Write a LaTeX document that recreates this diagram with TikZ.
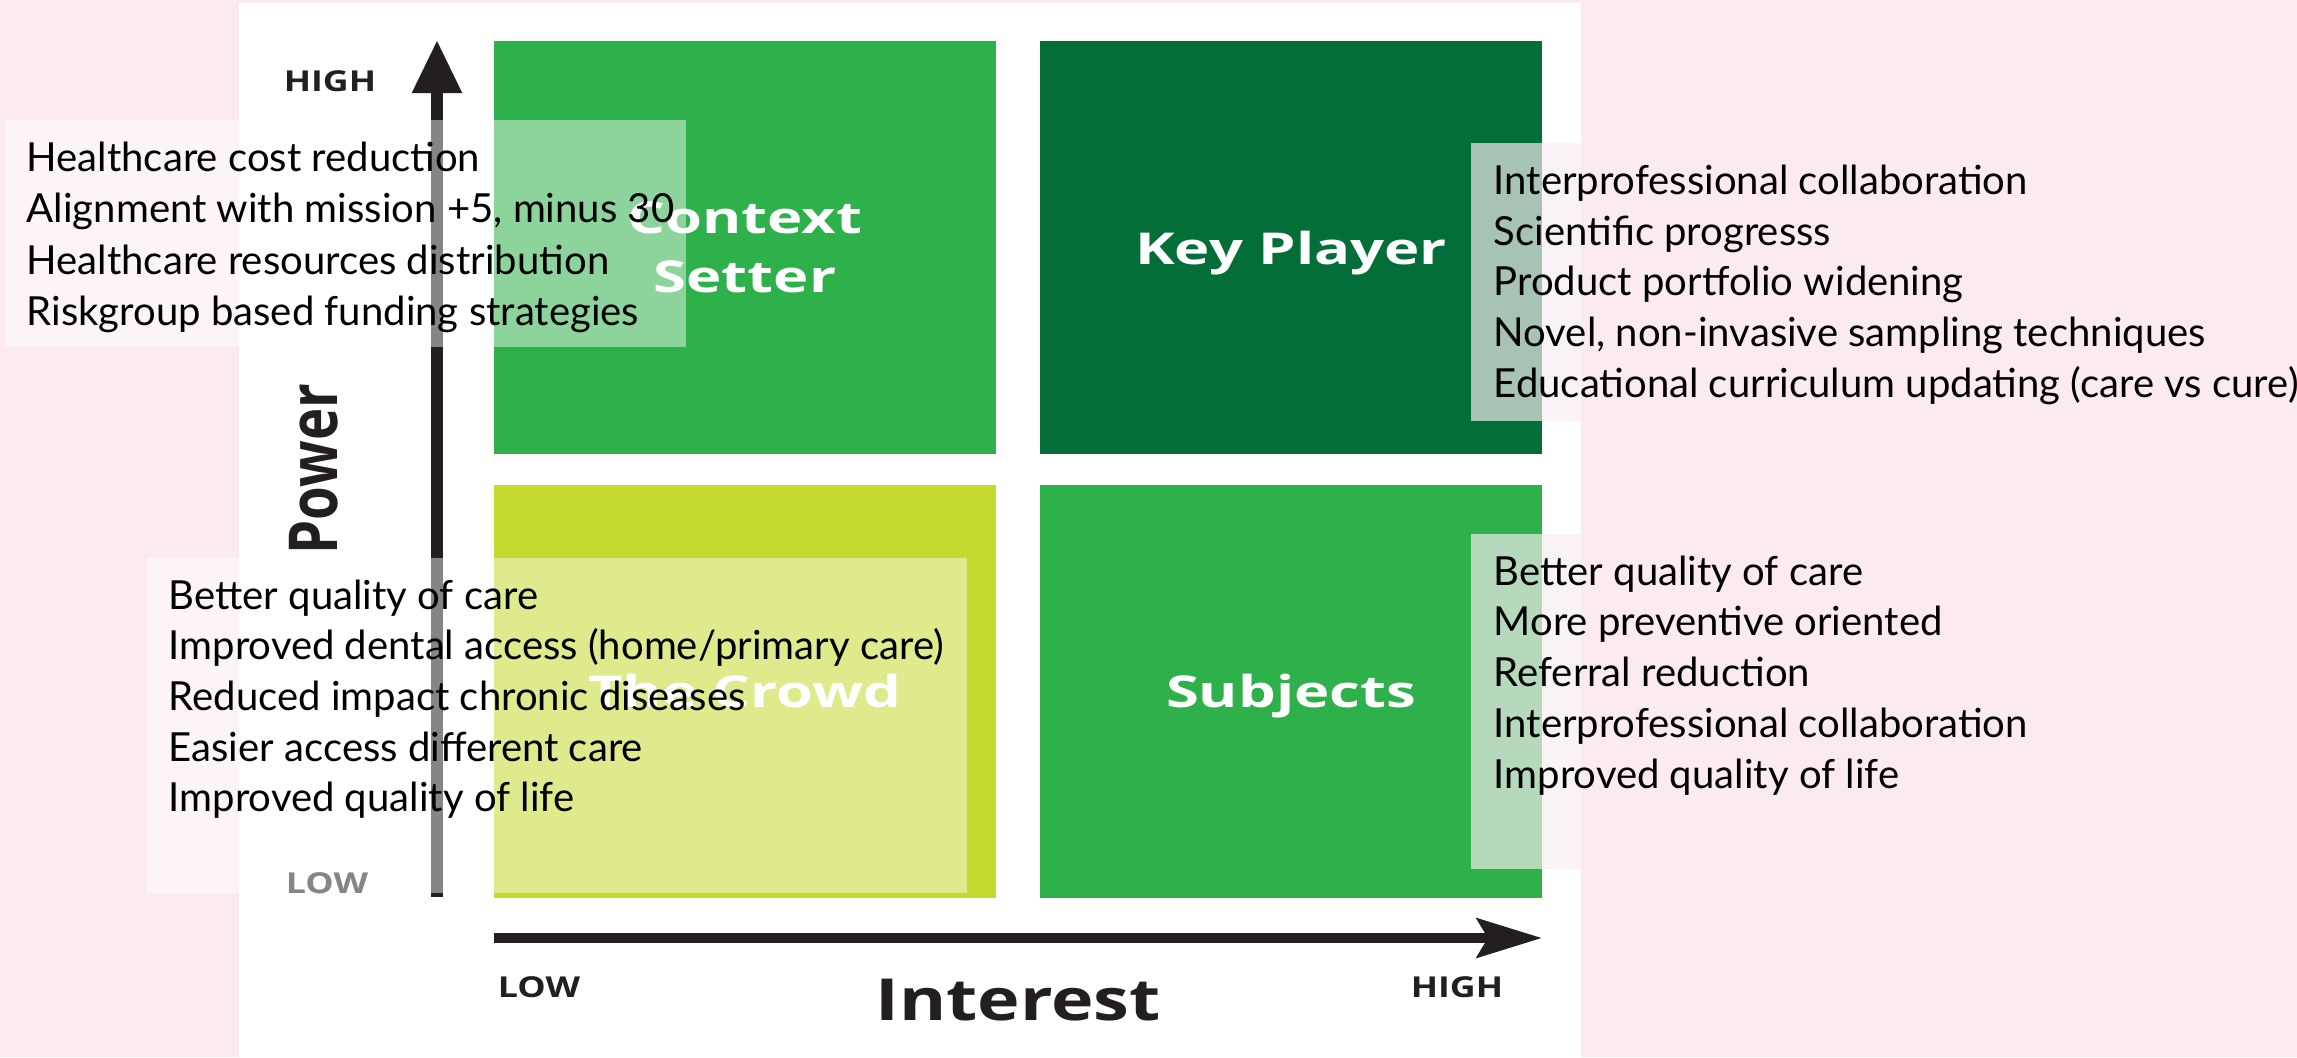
\documentclass[tikz,border=0pt]{standalone}
\usepackage{fontspec}
\setmainfont{Lato}
\newfontfamily\matrixfont{Open Sans}[FakeStretch=1.24]
\newfontfamily\quadfont{Open Sans}[FakeStretch=1.36]
\newfontfamily\powerfont{Open Sans}
\usetikzlibrary{arrows.meta}
\definecolor{slidepink}{RGB}{251,235,238}
\definecolor{midgreen}{RGB}{46,176,75}
\definecolor{darkgreen}{RGB}{3,110,55}
\definecolor{limegreen}{RGB}{196,218,47}
\definecolor{axisgray}{RGB}{35,31,32}
\definecolor{veilpink}{RGB}{248,238,241}

\begin{document}
\begin{tikzpicture}[x=0.1mm, y=-0.1mm,
    quad/.style={minimum width=50.2mm, minimum height=41.3mm, inner sep=0pt, text=white, align=center,
                 text depth=0pt, font=\quadfont\bfseries\fontsize{12.5}{16.8}\selectfont},
    tick/.style={inner sep=0pt, text=axisgray, font=\matrixfont\bfseries\fontsize{8.2}{9}\selectfont},
    item/.style={anchor=base west, inner sep=0pt, font=\fontsize{11.4}{14}\selectfont}]

\useasboundingbox (0,0) rectangle (2297,1057);
\fill[slidepink] (0,0) rectangle (2297,1057);
\fill[white] (239,3) rectangle (1581,1057);

\node [quad, fill=midgreen] (context) at (745,247.5) {Context\\Setter};
\node [quad, fill=darkgreen] (key) at (1291,247.5) {Key Player};
\node [quad, fill=limegreen] (crowd) at (745,691) {The Crowd};
\node [quad, fill=midgreen] (subjects) at (1291,691) {Subjects};

\coordinate (ybot) at (437,897);
\coordinate (ytop) at (437,40);
\coordinate (xleft) at (494,938);
\coordinate (xright) at (1542,938);
\draw [axisgray, line width=1.15mm, -{Triangle[length=5.3mm, width=4.7mm]}] (ybot) -- (ytop);
\draw [axisgray, line width=1.05mm, -{Stealth[length=6.5mm, width=3.9mm, inset=1.1mm]}] (xleft) -- (xright);

\node [tick] (yhigh) at (330,81) {HIGH};
\node [tick] (ylow) at (327,883) {LOW};
\node [tick] (xlow) at (539,987) {LOW};
\node [tick] (xhigh) at (1457,987) {HIGH};
\node [rotate=90, inner sep=0pt, text=axisgray, font=\powerfont\bfseries\fontsize{15.5}{16}\selectfont] (power) at (314,469) {\scalebox{1}[1.24]{Power}};
\node [inner sep=0pt, text=axisgray, font=\matrixfont\bfseries\fontsize{16.5}{18}\selectfont] (interest) at (1018,1000) {Interest};

\fill [white, fill opacity=0.45] (5,120) rectangle (686,347);
\fill [white, fill opacity=0.45] (147,558) rectangle (967,893);
\fill [veilpink, fill opacity=0.67] (1471,143) rectangle (1581,421);
\fill [veilpink, fill opacity=0.67] (1471,534) rectangle (1581,869);

\foreach \t [count=\i from 0] in {Healthcare cost reduction, {Alignment with mission +5, minus 30},
    Healthcare resources distribution, Riskgroup based funding strategies}
  \node [item] (setter\i) at (26,171+51.5*\i) {\t};
\foreach \t [count=\i from 0] in {Better quality of care, Improved dental access (home/primary care),
    Reduced impact chronic diseases, Easier access different care, Improved quality of life}
  \node [item] (crowd\i) at (168,609+50.7*\i) {\t};
\foreach \t [count=\i from 0] in {Interprofessional collaboration, Scientific progresss, Product portfolio widening,
    {Novel, non-invasive sampling techniques}, Educational curriculum updating (care vs cure)}
  \node [item] (player\i) at (1493,194.3+50.8*\i) {\t};
\foreach \t [count=\i from 0] in {Better quality of care, More preventive oriented, Referral reduction,
    Interprofessional collaboration, Improved quality of life}
  \node [item] (subject\i) at (1493,585+50.8*\i) {\t};
\end{tikzpicture}
\end{document}
